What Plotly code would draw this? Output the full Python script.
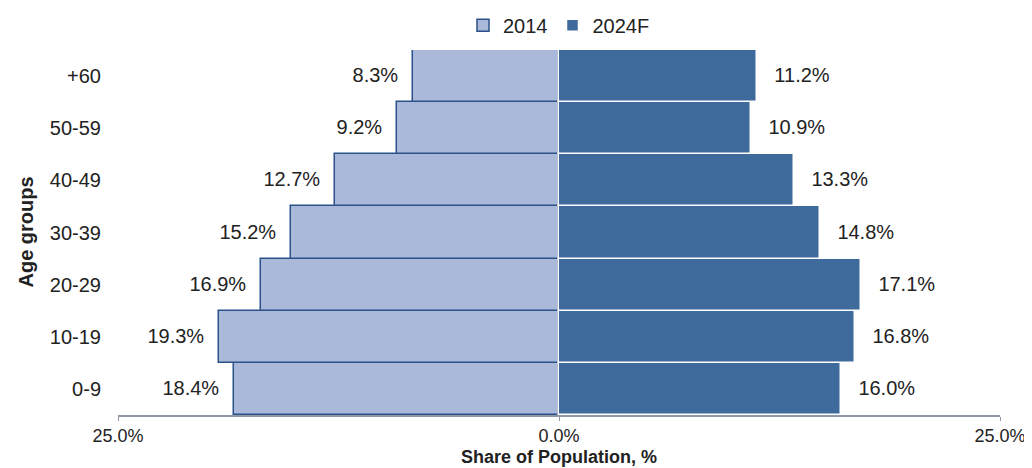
import plotly.graph_objects as go

age_groups = ["0-9", "10-19", "20-29", "30-39", "40-49", "50-59", "+60"]
share_2014 = [18.4, 19.3, 16.9, 15.2, 12.7, 9.2, 8.3]
share_2024f = [16.0, 16.8, 17.1, 14.8, 13.3, 10.9, 11.2]
x_tick_vals = [-25, 0, 25]
x_tick_text = ["25.0%", "0.0%", "25.0%"]

font_family = "Liberation Sans, Arial, sans-serif"
FS = 20
pad_l = "\u00a0\u00a0"
pad_r = "\u00a0\u00a0\u2009"

ML, MR, MT, MB = 110, 40, 42, 61
PW = 1032 - ML - MR
PH = 468 - MT - MB

fig = go.Figure()
fig.add_trace(go.Bar(
    y=age_groups, x=[-v for v in share_2014], orientation="h", name="2014",
    marker=dict(color="#aab9d9", line=dict(color="#2a5189", width=1.5)),
    text=[f"{v:.1f}%{pad_l}" for v in share_2014], textposition="outside",
    textfont=dict(size=FS, color="#222222", family=font_family),
    cliponaxis=False,
))
fig.add_trace(go.Bar(
    y=age_groups, x=share_2024f, orientation="h", name="2024F",
    marker=dict(color="#3f6a9c", line=dict(color="#ffffff", width=1.5)),
    text=[f"{pad_r}{v:.1f}%" for v in share_2024f], textposition="outside",
    textfont=dict(size=FS, color="#222222", family=font_family),
    cliponaxis=False,
))

fig.update_layout(
    width=1032, height=468,
    margin=dict(l=ML, r=MR, t=MT, b=MB, autoexpand=False),
    barmode="relative", bargap=0,
    plot_bgcolor="white", paper_bgcolor="white",
    font=dict(family=font_family, size=FS, color="#222222"),
    legend=dict(orientation="h", x=0.5, xanchor="center", y=1.068, yanchor="middle",
                font=dict(size=FS), traceorder="normal", itemwidth=30),
    xaxis=dict(range=[-25, 25], tickvals=x_tick_vals, ticktext=x_tick_text,
               showgrid=False, zeroline=True, zerolinecolor="#8e98a6", zerolinewidth=2,
               showline=True, linecolor="#8e98a6", linewidth=1.5,
               ticks="outside", ticklen=4, tickcolor="#8e98a6", automargin=False,
               tickfont=dict(size=18)),
    yaxis=dict(categoryorder="array", categoryarray=age_groups, showgrid=False,
               ticks="", ticklabelstandoff=16, automargin=False, tickfont=dict(size=FS)),
    annotations=[
        dict(text="<b>Share of Population, %</b>", xref="paper", yref="paper",
             x=0.5, y=-(449 - (468 - MB)) / PH, xanchor="center", yanchor="middle",
             showarrow=False, font=dict(size=18, color="#222222")),
        dict(text="<b>Age groups</b>", xref="paper", yref="paper", textangle=-90,
             x=-(ML - 17) / PW, y=0.5, xanchor="center", yanchor="middle", showarrow=False,
             font=dict(size=FS, color="#222222")),
    ],
)

fig.write_html("out.html")
